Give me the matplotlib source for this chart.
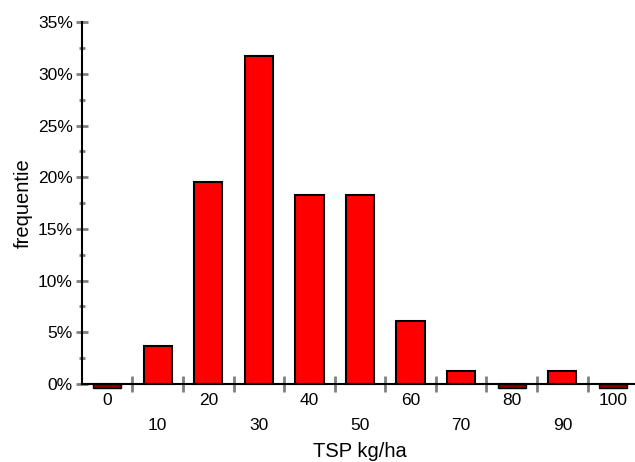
import numpy as np
import matplotlib.pyplot as plt
from matplotlib.ticker import MultipleLocator, FuncFormatter

plt.rcParams['font.family'] = ['Liberation Sans', 'DejaVu Sans']

# TSP classes (kg/ha) and share of fields per class (%)
classes = ['0', '10', '20', '30', '40', '50', '60', '70', '80', '90', '100']
freq = [0.0, 3.66, 19.51, 31.71, 18.29, 18.29, 6.10, 1.22, 0.0, 1.22, 0.0]

fig = plt.figure(figsize=(6.35, 4.62), dpi=100)
ax = fig.add_axes([0.129, 0.169, 0.876, 0.783])

x = np.arange(len(classes))
ax.bar(x, freq, width=0.56, color='#ff0000', edgecolor='black', linewidth=1.5, clip_on=False)
# empty classes still show as a flat dark bar
for xi, v in zip(x, freq):
    if v == 0:
        ax.bar(xi, -0.35, width=0.56, color='#8b0000', edgecolor='black', linewidth=1.0, clip_on=False)

ax.set_xlim(-0.5, 10.5)
ax.set_ylim(0, 35)

for s in ['top', 'right']:
    ax.spines[s].set_visible(False)
ax.spines['left'].set_linewidth(1.5)
ax.spines['bottom'].set_linewidth(1.5)

ax.yaxis.set_major_locator(MultipleLocator(5))
ax.yaxis.set_minor_locator(MultipleLocator(2.5))
ax.yaxis.set_major_formatter(FuncFormatter(lambda v, p: '%d%%' % v))
ax.tick_params(axis='y', which='major', direction='inout', length=9, width=2, color='#808080', labelsize=12.5, pad=2)
ax.tick_params(axis='y', which='minor', direction='inout', length=5, width=2, color='#808080')

# x ticks sit on the class boundaries, labels are placed separately
ax.set_xticks(x[:-1] + 0.5)
ax.set_xticklabels([])
ax.tick_params(axis='x', direction='inout', length=12, width=2, color='#808080')

for i, lab in enumerate(classes):
    off = -12 if i % 2 == 0 else -30.2
    ax.annotate(lab, xy=(i, 0), xycoords=('data', 'axes fraction'), xytext=(0, off),
                textcoords='offset points', ha='center', va='center', fontsize=12.5)

ax.annotate('TSP kg/ha', xy=(0.5, 0), xycoords='axes fraction', xytext=(0, -49),
            textcoords='offset points', ha='center', va='center', fontsize=14.5)
ax.set_ylabel('frequentie', fontsize=14.5, labelpad=4)

fig.savefig('out.png', dpi=100)
